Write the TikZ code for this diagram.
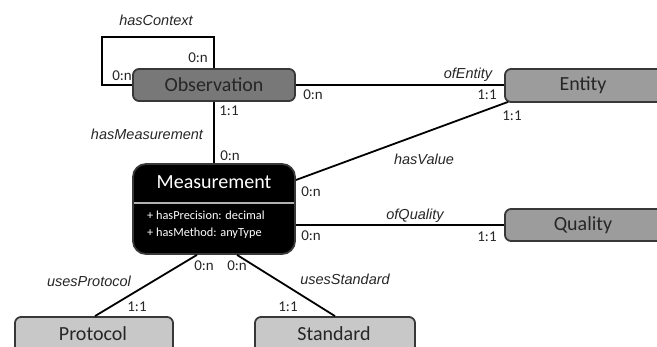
\documentclass[tikz,border=0pt]{standalone}
\usepackage{fontspec}
\setmainfont{Carlito}
\newfontfamily\rolefont{Liberation Sans}
\usetikzlibrary{calc}
\definecolor{obsfill}{HTML}{787878}
\definecolor{entfill}{HTML}{9C9C9C}
\definecolor{lightfill}{HTML}{C8C8C8}
\definecolor{boxline}{HTML}{383838}
\tikzset{
  box/.style={draw=boxline, line width=1.8pt, rounded corners=6pt, inner sep=0pt,
    font=\fontsize{20}{24}\selectfont, text=black!85},
  boxlabel/.style={inner sep=0pt, font=\fontsize{20}{24}\selectfont, text=black!85},
  conn/.style={draw=black, line width=1.8pt},
  card/.style={inner sep=0pt, font=\fontsize{15}{18}\selectfont, text=black!85},
  role/.style={inner sep=0pt, font=\rolefont\itshape\fontsize{14.5}{17}\selectfont, text=black!85},
  attr/.style={inner sep=0pt, anchor=west, font=\fontsize{12.3}{14}\selectfont, text=white},
}
\begin{document}
\begin{tikzpicture}[x=1pt,y=-1pt]
\useasboundingbox (0,0) rectangle (657,347);
\begin{scope}
\clip (0,0) rectangle (657,347);
% boxes
\node[box, fill=obsfill, minimum width=162pt, minimum height=32pt] (obs) at (214,85) {Observation};
\node[box, fill=black, rounded corners=13pt, minimum width=162pt, minimum height=90pt] (meas) at (214,209) {};
\node[box, fill=entfill, minimum width=195pt, minimum height=33pt] (ent) at (602.5,85.5) {};
\node[box, fill=entfill, minimum width=195pt, minimum height=32pt] (qual) at (602.5,225) {};
\node[box, fill=lightfill, minimum width=158pt, minimum height=42pt] (prot) at (94,338) {};
\node[box, fill=lightfill, minimum width=160pt, minimum height=42pt] (std) at (335,338) {};
% box labels
\node[boxlabel] (entl) at (583,85) {Entity};
\node[boxlabel] (quall) at (583,225) {Quality};
\node[boxlabel] (protl) at (93,334) {Protocol};
\node[boxlabel] (stdl) at (334,334) {Standard};
% measurement contents
\node[boxlabel, text=white] (mtitle) at (214,182) {Measurement};
\coordinate (sepL) at (134,203);
\coordinate (sepR) at (294,203);
\draw[draw=black!30, line width=1.6pt] (sepL) -- (sepR);
\node[attr] (a1) at (147,215) {+ hasPrecision: decimal};
\node[attr] (a2) at (147,233) {+ hasMethod: anyType};
% connectors
\coordinate (loopA) at (102,37);
\draw[conn] (obs.north) |- (loopA) |- (obs.west);
\draw[conn] (obs.south) -- (meas.north);
\draw[conn] (obs.east) -- (obs.east -| ent.west);
\draw[conn] ($(meas.east)+(0,-29)$) -- ($(ent.south west)+(4,-1)$);
\draw[conn] ($(meas.east)+(0,16)$) -- (qual.west);
\draw[conn] ($(meas.south)+(-17,0)$) -- ($(prot.north)+(1,0)$);
\draw[conn] ($(meas.south)+(23,0)$) -- (std.north);
\end{scope}
% labels
\node[role] (lctx) at (156,20) {hasContext};
\node[card] (c1) at (198,58) {0:n};
\node[card] (c2) at (122,76) {0:n};
\node[card] (c3) at (229,111) {1:1};
\node[role] (lmeas) at (147,134) {hasMeasurement};
\node[card] (c4) at (230,156) {0:n};
\node[card] (c5) at (313,95) {0:n};
\node[role] (lent) at (468,75) {ofEntity};
\node[card] (c6) at (487,95) {1:1};
\node[card] (c7) at (512,116) {1:1};
\node[role] (lval) at (424,159) {hasValue};
\node[card] (c8) at (311,192) {0:n};
\node[role] (lqual) at (415,216) {ofQuality};
\node[card] (c9) at (311,236) {0:n};
\node[card] (c10) at (487,237) {1:1};
\node[card] (c11) at (204,266) {0:n};
\node[card] (c12) at (237,266) {0:n};
\node[role] (lprot) at (89,281) {usesProtocol};
\node[role] (lstd) at (345,279) {usesStandard};
\node[card] (c13) at (137,307) {1:1};
\node[card] (c14) at (288,307) {1:1};
\end{tikzpicture}
\end{document}
